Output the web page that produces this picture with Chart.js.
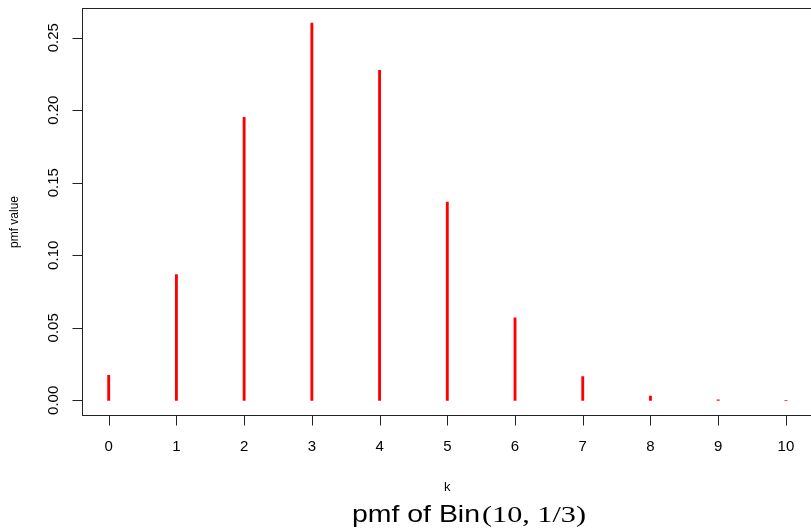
<!DOCTYPE html>
<html>
<head>
<meta charset="utf-8">
<script src="https://cdn.jsdelivr.net/npm/chart.js@4.4.1/dist/chart.umd.min.js"></script>
<style>
    html, body { margin: 0; padding: 0; background: #fff; overflow: hidden; }
    canvas { display: block; }
</style>
</head>
<body>
<canvas id="pmfChart" width="814" height="531"></canvas>
<script>
// Bin(10, 1/3) pmf
const kValues = [0, 1, 2, 3, 4, 5, 6, 7, 8, 9, 10];
const pmfValues = [0.0173, 0.0867, 0.1951, 0.2601, 0.2276, 0.1366, 0.0569, 0.0163, 0.0030, 0.0003, 0.00002];
const xTicks = [0, 1, 2, 3, 4, 5, 6, 7, 8, 9, 10];
const yTicks = [0, 0.05, 0.10, 0.15, 0.20, 0.25];
const yTickLabels = ["0.00", "0.05", "0.10", "0.15", "0.20", "0.25"];

const SANS = '"Liberation Sans", Arial, Helvetica, sans-serif';
const SERIF = '"Liberation Serif", "DejaVu Serif", serif';

// R-style axes, box and labels drawn on top of the chart
const rAxes = {
    id: 'rAxes',
    afterDraw(chart) {
        const ctx = chart.ctx;
        const a = chart.chartArea;
        const xs = chart.scales.x;
        const ys = chart.scales.y;
        const px = v => Math.round(v) + 0.5;

        ctx.save();
        ctx.strokeStyle = '#222';
        ctx.lineWidth = 1;

        // box
        ctx.strokeRect(px(a.left), px(a.top), Math.round(a.right - a.left), Math.round(a.bottom - a.top));

        // tick marks
        ctx.beginPath();
        xTicks.forEach(t => {
            const x = px(xs.getPixelForValue(t));
            ctx.moveTo(x, px(a.bottom));
            ctx.lineTo(x, px(a.bottom) + 10);
        });
        yTicks.forEach(t => {
            const y = px(ys.getPixelForValue(t));
            ctx.moveTo(px(a.left), y);
            ctx.lineTo(px(a.left) - 10, y);
        });
        ctx.stroke();

        ctx.fillStyle = '#000';

        // x tick labels
        ctx.font = '15px ' + SANS;
        ctx.textAlign = 'center';
        ctx.textBaseline = 'alphabetic';
        xTicks.forEach(t => {
            ctx.fillText(String(t), xs.getPixelForValue(t), 451);
        });

        // y tick labels (rotated, as in R)
        yTicks.forEach((t, i) => {
            ctx.save();
            ctx.translate(58, ys.getPixelForValue(t));
            ctx.rotate(-Math.PI / 2);
            ctx.fillText(yTickLabels[i], 0, 0);
            ctx.restore();
        });

        // axis titles
        ctx.font = '13px ' + SANS;
        ctx.fillText('k', (a.left + a.right) / 2, 491);
        ctx.font = '12px ' + SANS;
        ctx.save();
        ctx.translate(18, 222);
        ctx.rotate(-Math.PI / 2);
        ctx.fillText('pmf value', 0, 0);
        ctx.restore();

        // sub title: "pmf of Bin" + math part
        const drawFit = (text, font, x, y, w) => {
            ctx.font = font;
            const mw = ctx.measureText(text).width;
            ctx.save();
            ctx.translate(x, y);
            ctx.scale(w / mw, 1);
            ctx.textAlign = 'left';
            ctx.fillText(text, 0, 0);
            ctx.restore();
        };
        drawFit('pmf of Bin', '24px ' + SANS, 352, 522, 128);
        drawFit('(10, 1/3)', '23px ' + SERIF, 482, 522, 104);

        ctx.restore();
    }
};

new Chart(document.getElementById('pmfChart'), {
    type: 'bar',
    data: {
        datasets: [{
            data: kValues.map((k, i) => ({ x: k, y: pmfValues[i] })),
            backgroundColor: '#ff0000',
            borderWidth: 0,
            barThickness: 2.2
        }]
    },
    options: {
        responsive: false,
        animation: false,
        devicePixelRatio: 1,
        layout: { padding: { top: 8, right: 1, left: 0, bottom: 0 } },
        plugins: {
            legend: { display: false },
            tooltip: { enabled: false }
        },
        scales: {
            x: {
                type: 'linear',
                offset: false,
                min: -0.4,
                max: 10.4,
                grid: { display: false, offset: false },
                border: { display: false },
                ticks: { display: false, stepSize: 1, includeBounds: false },
                afterFit: s => { s.height = 115.6; }
            },
            y: {
                min: -0.0104,
                max: 0.2705,
                grid: { display: false },
                border: { display: false },
                ticks: { display: false, stepSize: 0.05, includeBounds: false },
                afterFit: s => { s.width = 81.6; }
            }
        }
    },
    plugins: [rAxes]
});
</script>
</body>
</html>
